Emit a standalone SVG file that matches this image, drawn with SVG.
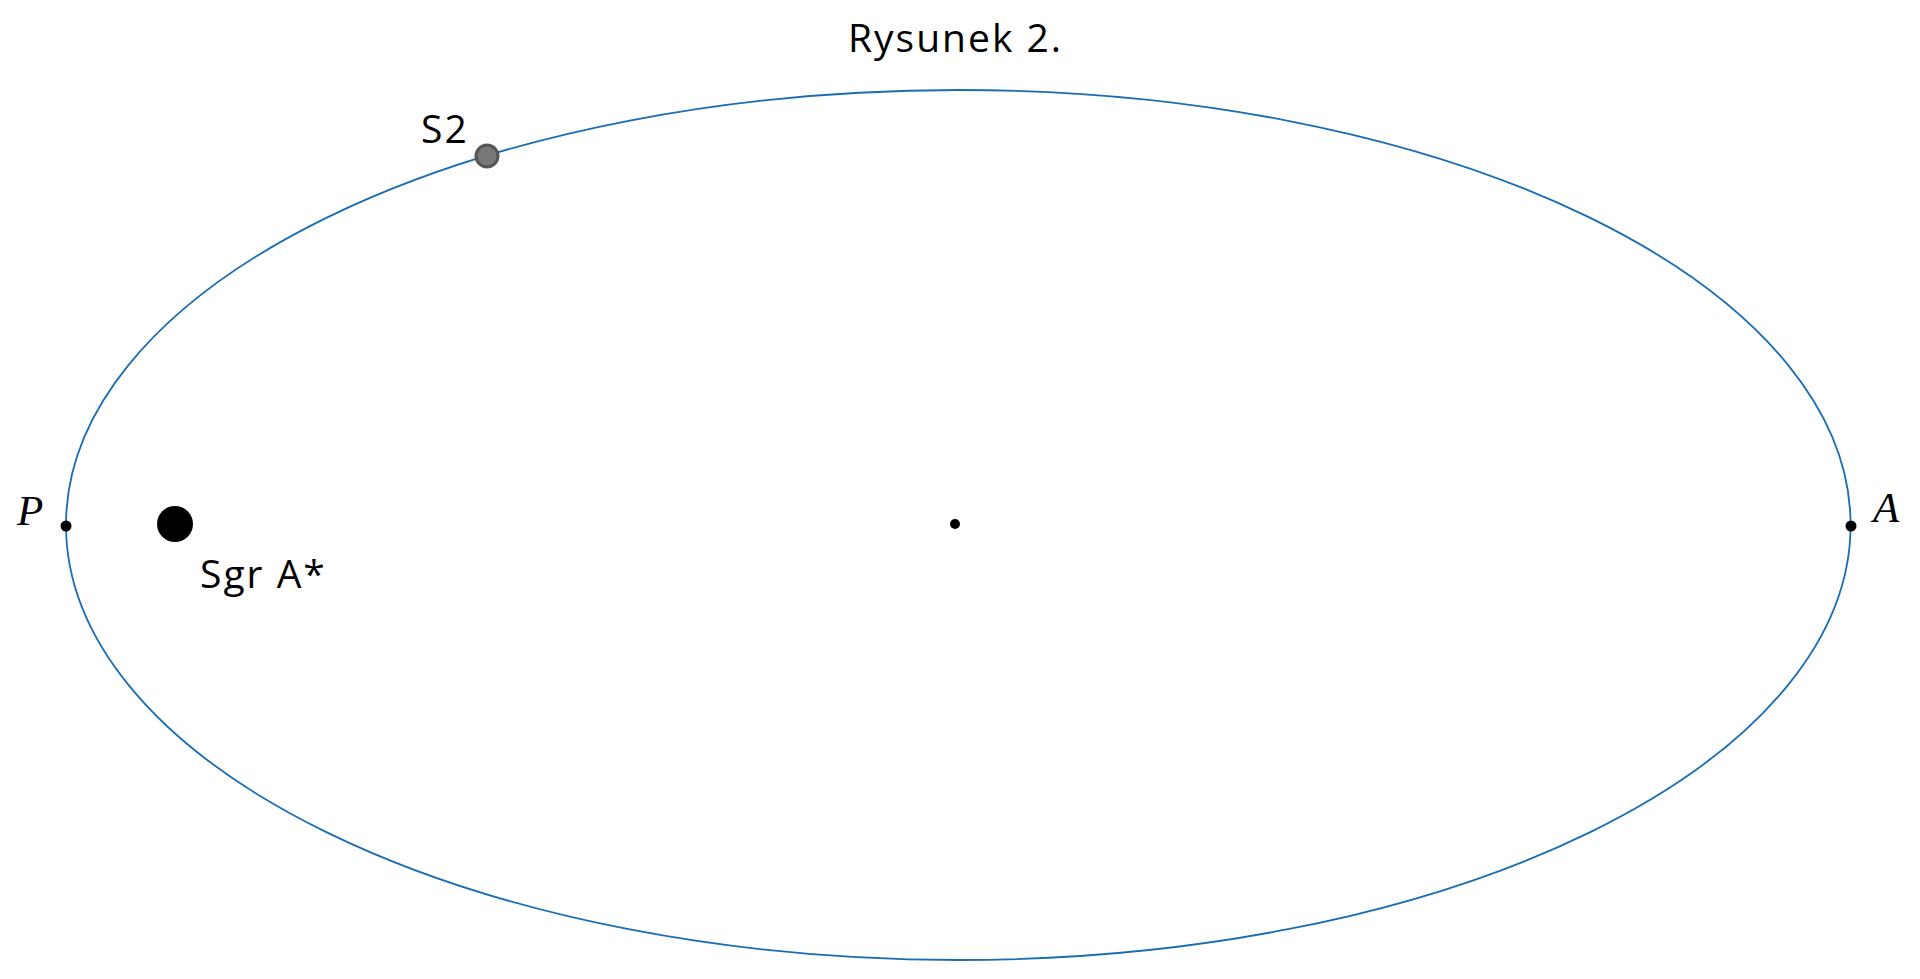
<svg xmlns="http://www.w3.org/2000/svg" width="1920" height="979" viewBox="0 0 1920 979">
<style>
.lbl{font-family:"Open Sans","Noto Sans","DejaVu Sans",sans-serif;font-size:39px;fill:#000;letter-spacing:2px}
.pt{font-family:"Liberation Serif","DejaVu Serif",serif;font-style:italic;font-size:43px;fill:#000}
.dot{fill:#000}
</style>
<rect width="1920" height="979" fill="#fff"/>
<text class="lbl" x="848" y="52">Rysunek 2.</text>
<g id="connectors">
<ellipse id="orbit" cx="958.3" cy="525" rx="892.3" ry="435" fill="none" stroke="#1a6db3" stroke-width="1.8"/>
</g>
<g id="P"><circle class="dot" cx="66" cy="526" r="5.5"/><text class="pt" x="17" y="525">P</text></g>
<g id="A"><circle class="dot" cx="1851" cy="526" r="5.5"/><text class="pt" x="1873" y="522">A</text></g>
<g id="center"><circle class="dot" cx="955" cy="524" r="5"/></g>
<g id="SgrA"><circle class="dot" cx="175" cy="524" r="18"/><text class="lbl" x="200" y="588">Sgr A*</text></g>
<g id="S2"><circle cx="487" cy="156" r="11" fill="#777" stroke="#555" stroke-width="3"/><text class="lbl" x="421" y="143" letter-spacing="4">S2</text></g>
</svg>
